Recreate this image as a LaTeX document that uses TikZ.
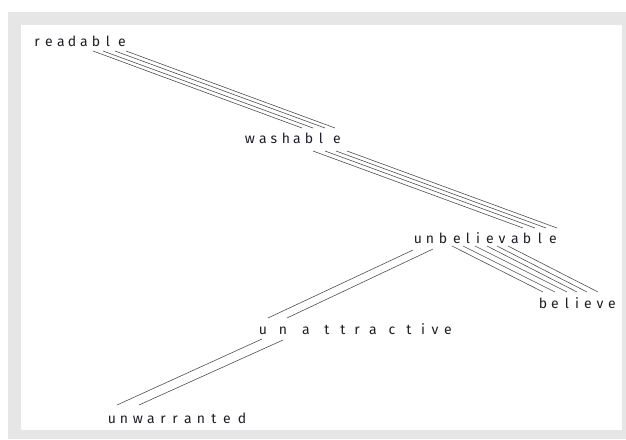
\documentclass[tikz,border=0pt]{standalone}
\usepackage{fontspec}
\setmainfont{Fira Sans}

\definecolor{framegray}{HTML}{E6E6E6}
\definecolor{linkgray}{HTML}{505050}
\definecolor{inkcol}{HTML}{1E1E28}

\tikzset{
  letter/.style={anchor=base, inner sep=0pt, text=inkcol, font=\fontsize{14}{16}\selectfont},
  link/.style={draw=linkgray, line width=0.6pt}
}

\begin{document}
\begin{tikzpicture}[x=1pt,y=-1pt]
  \useasboundingbox (0,0) rectangle (626,439);
  \fill[framegray] (8,12) rectangle (626,439);
  \fill[white] (21,25) rectangle (622,430);

  % words, one node per letter
  \foreach \ch/\x [count=\i] in {r/37,e/49,a/61,d/72,a/84,b/96,l/108,e/122}
    \node[letter] (rd\i) at (\x,46) {\ch};
  \foreach \ch/\x [count=\i] in {w/250,a/263,s/274,h/286,a/297,b/309,l/321,e/337}
    \node[letter] (ws\i) at (\x,143) {\ch};
  \foreach \ch/\x [count=\i] in {u/418,n/430,b/443,e/457,l/468,i/478,e/490,v/502,a/515,b/527,l/540,e/553}
    \node[letter] (ub\i) at (\x,243) {\ch};
  \foreach \ch/\x [count=\i] in {b/543,e/555,l/567,i/577,e/588,v/600,e/612}
    \node[letter] (bl\i) at (\x,308) {\ch};
  \foreach \ch/\x [count=\i] in {u/263,n/283,a/306,t/327,t/343,r/357,a/373,c/392,t/409,i/423,v/435,e/448}
    \node[letter] (ua\i) at (\x,334) {\ch};
  \foreach \ch/\x [count=\i] in {u/112,n/124,w/138,a/151,r/163,r/175,a/188,n/201,t/214,e/227,d/242}
    \node[letter] (uw\i) at (\x,423) {\ch};

  % readable -> washable
  \foreach \i/\a/\b in {5/9/5,6/7/4,7/7/4,8/4/-2}
    \draw[link] ([shift={(\a,5)}]rd\i.base) -- ([shift={(\b,-15)}]ws\i.base);
  % washable -> unbelievable
  \foreach \i/\j/\a/\b in {5/9/16/8,6/10/16/8,7/11/15/6,8/12/10/4}
    \draw[link] ([shift={(\a,8)}]ws\i.base) -- ([shift={(\b,-15)}]ub\j.base);
  % unbelievable -> believe
  \foreach \i/\j/\a/\b in {3/1/9/0,4/2/6/0,5/3/7/0,6/4/9/0,7/5/7/-1,8/6/6/-2}
    \draw[link] ([shift={(\a,3)}]ub\i.base) -- ([shift={(\b,-16)}]bl\j.base);
  % unbelievable -> unattractive
  \draw[link] ([shift={(-5,7)}]ub1.base) -- ([shift={(5,-16)}]ua1.base);
  \draw[link] ([shift={(3,6)}]ub2.base) -- ([shift={(4,-16)}]ua2.base);
  % unattractive -> unwarranted
  \draw[link] ([shift={(-1,5)}]ua1.base) -- ([shift={(5,-18)}]uw1.base);
  \draw[link] ([shift={(0,6)}]ua2.base) -- ([shift={(15,-18)}]uw2.base);
\end{tikzpicture}
\end{document}
